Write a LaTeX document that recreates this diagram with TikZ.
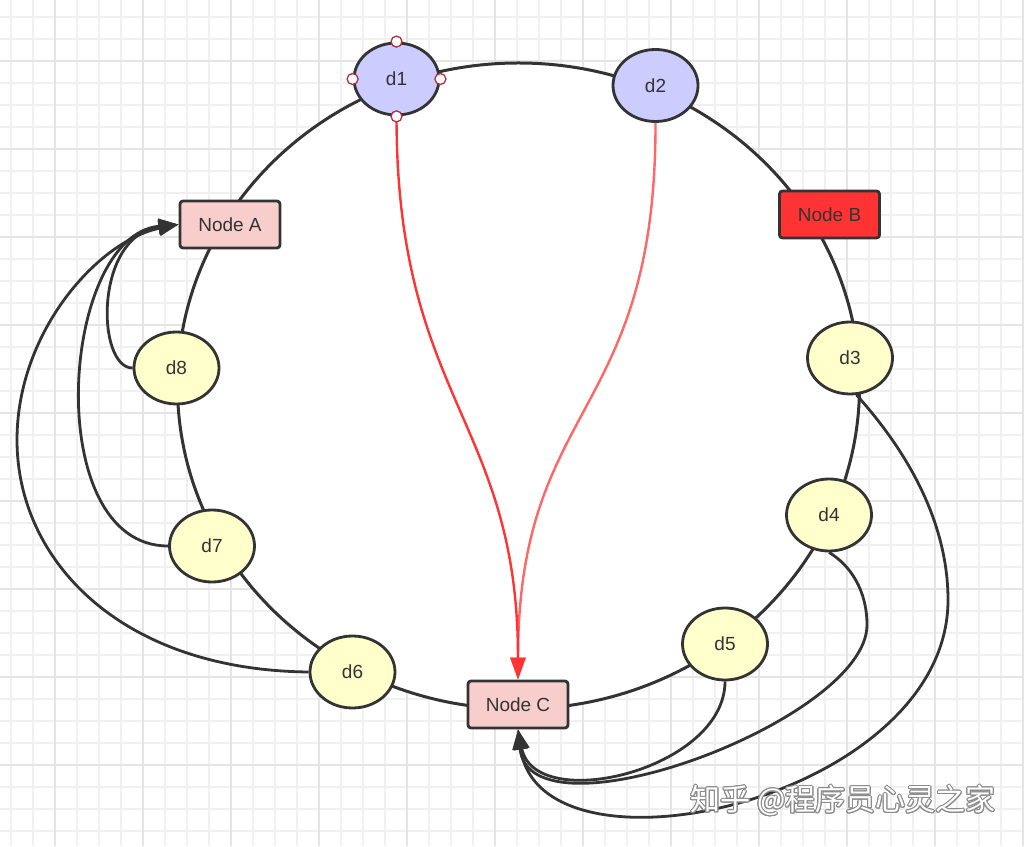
\documentclass[tikz,border=0pt]{standalone}
\usepackage{fontspec}
\setmainfont{Liberation Sans}
\newfontfamily\cjk{Noto Sans CJK SC}
\usepackage{contour}
\contourlength{0.9pt}
\usetikzlibrary{shapes.geometric,arrows.meta}
\definecolor{ink}{HTML}{333333}
\definecolor{purplefill}{HTML}{CCCCFF}
\definecolor{yellowfill}{HTML}{FFFFCC}
\definecolor{pinkfill}{HTML}{F8CECC}
\definecolor{redfill}{HTML}{FF3333}
\definecolor{redline}{HTML}{FF3333}
\definecolor{redlight}{HTML}{FF6666}
\definecolor{handle}{HTML}{B0303A}
\definecolor{gridfine}{HTML}{F0F0F0}
\definecolor{gridmajor}{HTML}{E4E4E4}
\begin{document}
\begin{tikzpicture}[x=1pt,y=1pt,
  lbl/.style={text=ink, font=\fontsize{19}{22}\selectfont},
  dnode/.style={lbl, ellipse, draw=ink, line width=2.8pt, minimum width=85pt, minimum height=72pt, inner sep=0pt},
  purplenode/.style={dnode, fill=purplefill},
  yellownode/.style={dnode, fill=yellowfill},
  boxnode/.style={lbl, rectangle, rounded corners=3pt, draw=ink, line width=2.8pt, minimum width=100pt, minimum height=47pt, inner sep=0pt},
  ringstyle/.style={ellipse, draw=ink, line width=3pt, fill=white, minimum width=682pt, minimum height=646pt, inner sep=0pt},
  blackarrow/.style={draw=ink, line width=2.8pt, -{Triangle[length=20pt,width=15pt,fill=ink]}},
  redarrow/.style={line width=2.4pt, -{Triangle[length=22pt,width=15pt,fill=redline]}},
  handledot/.style={circle, draw=handle, fill=white, line width=1.3pt, minimum size=11pt, inner sep=0pt},
]
\useasboundingbox (0,0) rectangle (1024,846);
\fill[white] (0,0) rectangle (1024,846);
% grid
\foreach \gx in {11,33,...,1023} \draw[gridfine, line width=1.2pt] (\gx,0) -- (\gx,846);
\foreach \gy in {15,37,...,829} \draw[gridfine, line width=1.2pt] (0,\gy) -- (1024,\gy);
\foreach \gx in {55,143,...,1023} \draw[gridmajor, line width=1.6pt] (\gx,0) -- (\gx,846);
\foreach \gy in {81,169,...,785} \draw[gridmajor, line width=1.6pt] (0,\gy) -- (1024,\gy);

% ring
\node[ringstyle] (ring) at (518.5,460) {};

% nodes
\node[purplenode] (d1) at (396.5,767) {d1};
\node[purplenode] (d2) at (655.5,760.5) {d2};
\node[boxnode, fill=pinkfill] (A) at (230,621.5) {Node A};
\node[boxnode, fill=redfill] (B) at (829.5,631.5) {Node B};
\node[yellownode] (d3) at (850,488) {d3};
\node[yellownode] (d4) at (829,331) {d4};
\node[yellownode] (d5) at (725,202) {d5};
\node[boxnode, fill=pinkfill] (C) at (518,141.5) {Node C};
\node[yellownode] (d6) at (352.5,174) {d6};
\node[yellownode] (d7) at (212,300) {d7};
\node[yellownode] (d8) at (176.5,478) {d8};

% red arrows
\draw[redarrow, draw=redlight] (d2.south) .. controls (656,426) and (518,446) .. (C.north);
\draw[redarrow, draw=redline] (d1.south) .. controls (396.5,446) and (518,426) .. (C.north);

% black arrows to Node A
\draw[blackarrow] (d8.west) .. controls (96,478) and (94,611) .. (A.west);
\draw[blackarrow] (d7.west) .. controls (40,300) and (60,611) .. (A.west);
\draw[blackarrow] (d6.west) .. controls (120,176) and (17,286) .. (17,406) .. controls (17,516) and (100,606) .. (A.west);

% black arrows to Node C
\draw[blackarrow] (d3.-80) .. controls (915,386) and (948,316) .. (948,246) .. controls (948,46) and (540,-44) .. (C.south);
\draw[blackarrow] (d4.south) .. controls (850,281) and (867,256) .. (867,221) .. controls (867,126) and (530,1) .. (C.south);
\draw[blackarrow] (d5.south) .. controls (725,76) and (535,31) .. (C.south);

% selection handles on d1
\node[handledot] (h1) at (d1.north) {};
\node[handledot] (h2) at (d1.west) {};
\node[handledot] (h3) at (d1.east) {};
\node[handledot] (h4) at (d1.south) {};

% watermark
\node[text=white, font=\cjk\fontsize{30}{34}\selectfont] (wm) at (843,45) {\contour{black!45}{知乎 @程序员心灵之家}};
\end{tikzpicture}
\end{document}
